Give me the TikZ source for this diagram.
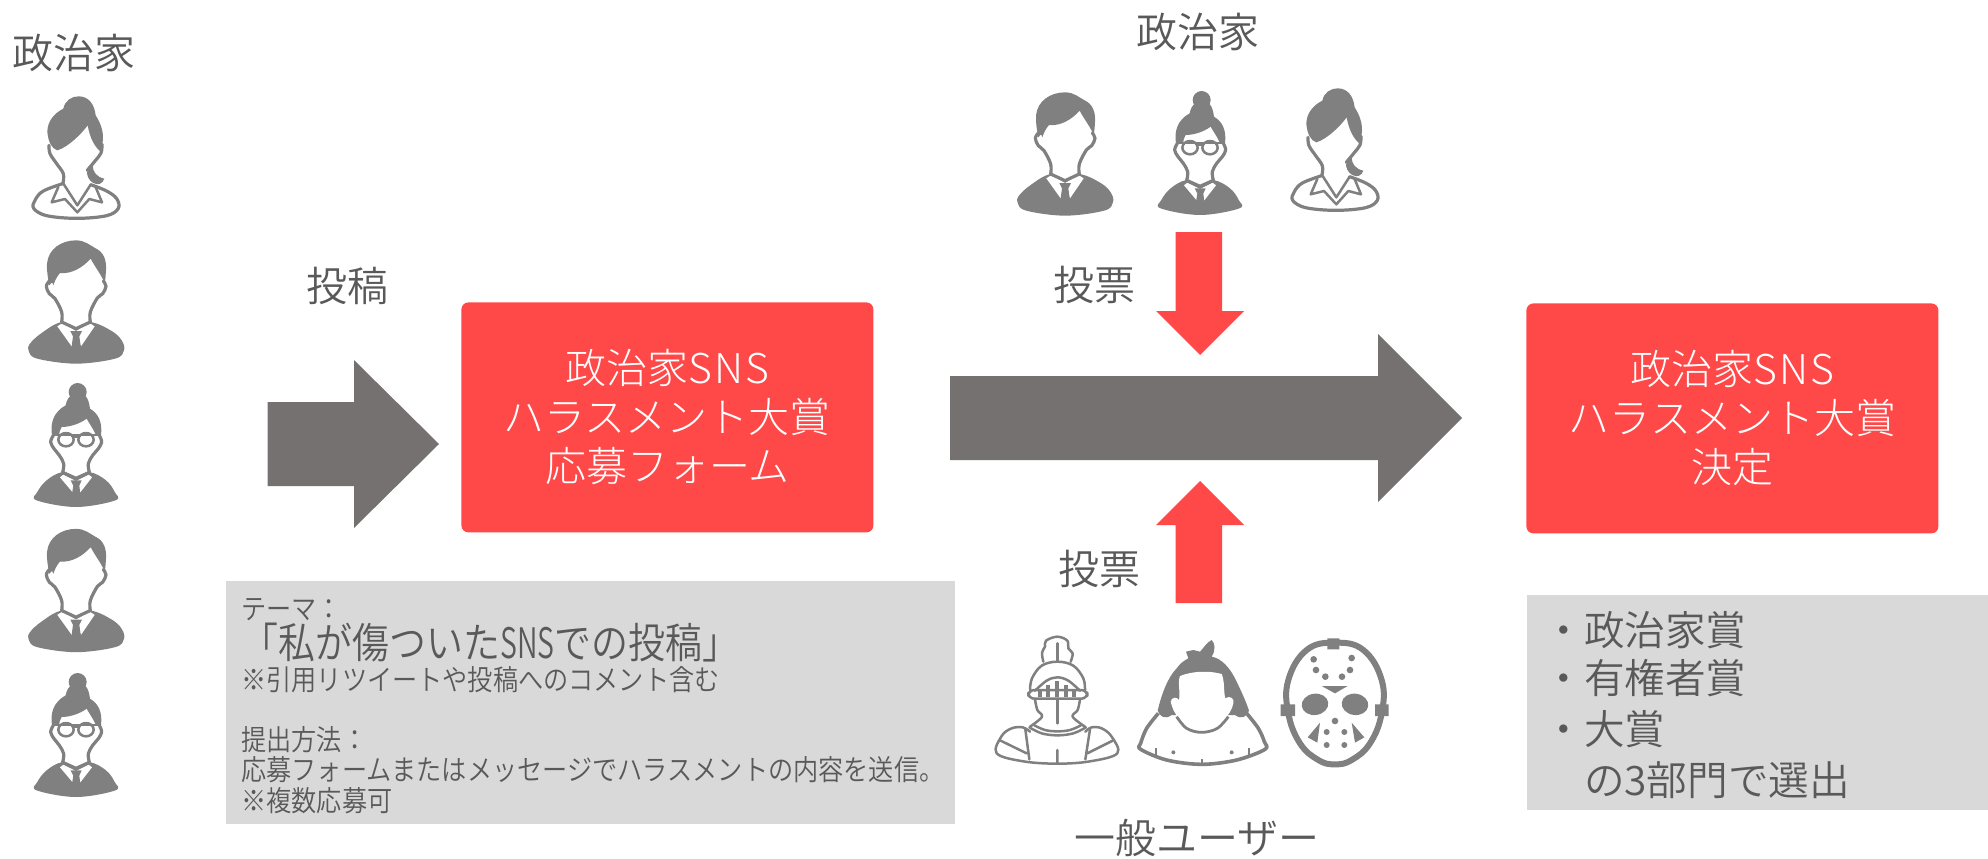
\documentclass[tikz,border=0pt]{standalone}
\usepackage{fontspec}
\setmainfont{Noto Sans CJK JP}[UprightFont=* DemiLight]
\newfontfamily\lightfont{Noto Sans CJK JP}[UprightFont=* Light]
\newfontfamily\narrowfont[FakeStretch=0.88,UprightFont=* DemiLight]{Noto Sans CJK JP}
\newfontfamily\tightfont[FakeStretch=0.68,UprightFont=* DemiLight]{Noto Sans CJK JP}
\definecolor{ink}{HTML}{595959}
\definecolor{icon}{HTML}{808080}
\definecolor{redfill}{HTML}{FF4848}
\definecolor{darkarrow}{HTML}{767171}
\definecolor{panel}{HTML}{D9D9D9}
\tikzset{
  label40/.style={text=ink,inner sep=0pt,font=\fontsize{20.5}{24}\selectfont},
  redbox/.style={fill=redfill,rounded corners=3.5pt,text=white,align=center,inner sep=0pt,
    minimum width=206pt,minimum height=115pt,font=\lightfont\fontsize{20.5}{24.5}\selectfont},
  panelbox/.style={fill=panel,inner sep=0pt},
  small/.style={text=ink,inner sep=0pt,anchor=west,font=\narrowfont\fontsize{14.3}{16}\selectfont},
  big/.style={text=ink,inner sep=0pt,anchor=west,font=\narrowfont\fontsize{21}{24}\selectfont},
  award/.style={text=ink,inner sep=0pt,anchor=west,font=\fontsize{20.3}{24}\selectfont},
  ln/.style={draw=icon,line width=1.6pt,line join=round,line cap=round},
  thin/.style={draw=icon,line width=1.25pt,line join=round,line cap=round},
}
\newcommand{\wideSNS}{{\addfontfeature{LetterSpace=6}SNS}}
% man: local coordinates centred at (228,905)
\newcommand{\manicon}[3]{\begin{scope}[shift={(#1,#2)},scale=#3,shift={(-228,-905)}]
 \fill[icon] plot[smooth cycle,tension=.6] coordinates {(185,965)(125,998)(90,1030)(86,1052)(112,1075)(228,1090)(345,1075)(372,1050)(365,1020)(335,992)(272,965)};
 \fill[white] (172,978)--(188,968)--(228,992)--(268,968)--(284,978)--(243,1038)--(228,1000)--(215,1038)--cycle;
 \fill[icon] (211,992)--(246,992)--(238,1008)--(243,1045)--(228,1060)--(214,1045)--(219,1008)--cycle;
 \fill[white] (150,830)--(310,830)--(300,890)--(272,935)--(272,965)--(228,985)--(185,965)--(185,935)--(160,890)--cycle;
 \draw[ln] plot[smooth,tension=.6] coordinates {(148,842)(139,858)(148,880)(165,895)(185,935)(185,965)};
 \draw[ln] plot[smooth,tension=.6] coordinates {(310,842)(318,858)(308,880)(292,893)(271,935)(271,965)};
 \draw[ln] (185,965)--(228,985)--(271,965);
 \fill[icon] (148,855)..controls(143,830)and(140,810)..(141,790)..controls(145,745)and(185,720)..(228,720)..controls(255,720)and(270,735)..(285,743)..controls(312,755)and(320,780)..(318,810)..controls(317,825)and(316,840)..(314,848)..controls(305,825)and(285,800)..(272,775)..controls(250,800)and(215,822)..(180,818)..controls(170,830)and(165,840)..(160,855)..controls(157,840)and(152,850)..(148,855)--cycle;
\end{scope}}
% woman with bun and glasses: local centre (228,914)
\newcommand{\glassicon}[3]{\begin{scope}[shift={(#1,#2)},scale=#3,shift={(-228,-914)}]
 \fill[icon] plot[smooth cycle,tension=.6] coordinates {(188,995)(140,1020)(112,1055)(110,1080)(228,1100)(346,1080)(344,1055)(318,1020)(268,995)};
 \fill[white] (180,1011)--(190,1003)--(228,1022)--(266,1003)--(276,1011)--(241,1056)--(228,1030)--(218,1056)--cycle;
 \fill[icon] (212,1020)--(245,1020)--(238,1036)--(241,1060)--(228,1075)--(216,1060)--(220,1036)--cycle;
 \fill[white] (158,880)--(300,880)--(295,925)--(265,965)--(265,995)--(228,1012)--(190,995)--(190,965)--(165,925)--cycle;
 \draw[ln] plot[smooth,tension=.6] coordinates {(160,885)(152,905)(162,925)(178,945)(191,970)(188,996)};
 \draw[ln] plot[smooth,tension=.6] coordinates {(298,885)(305,905)(295,925)(278,945)(265,970)(268,996)};
 \draw[ln] (188,996)--(228,1014)--(268,996);
 \fill[icon] (233,755) circle (27);
 \fill[icon] (156,885)..controls(150,850)and(160,815)..(197,795)..controls(200,780)and(205,770)..(215,765)--(255,765)..controls(265,775)and(268,790)..(270,805)..controls(295,820)and(308,845)..(303,885)--(288,885)..controls(280,865)and(268,850)..(260,835)..controls(240,850)and(210,860)..(185,860)..controls(180,868)and(178,875)..(177,885)--cycle;
 \draw[thin] (198,898) ellipse (23 and 20) (258,898) ellipse (23 and 20);
 \draw[icon,line width=1.4pt] (160,884)--(298,884);
 \draw[thin] (221,890)--(235,890);
\end{scope}}
% woman with ponytail and open collar: local centre (228,473)
\newcommand{\pontailicon}[3]{\begin{scope}[shift={(#1,#2)},scale=#3,shift={(-228,-473)}]
 \fill[icon] (262,510)..controls(262,500)and(268,495)..(278,495)..controls(278,515)and(290,530)..(313,535)..controls(308,550)and(295,556)..(280,548)..controls(268,542)and(258,525)..(262,510)--cycle;
 \draw[ln,fill=white] plot[smooth,tension=.6] coordinates {(188,550)(130,572)(106,598)(101,624)(140,646)(230,654)(320,646)(355,624)(350,595)(320,572)(272,553)};
 \draw[ln] plot[smooth,tension=.6] coordinates {(147,435)(150,460)(170,490)(190,520)(189,548)};
 \draw[ln] plot[smooth,tension=.6] coordinates {(306,432)(303,458)(285,482)(262,510)};
 \draw[thin] (189,548)--(232,615)--(272,553);
 \draw[thin] (175,560)--(155,606)--(195,596)--(232,636)--(268,596)--(306,606)--(286,558);
 \fill[icon] (190,325)..controls(195,300)and(215,288)..(236,288)..controls(265,288)and(283,310)..(287,345)..controls(300,365)and(310,390)..(309,415)..controls(308,430)and(305,445)..(300,452)..controls(285,440)and(270,415)..(263,375)..controls(245,400)and(205,440)..(172,450)..controls(155,445)and(145,425)..(142,395)..controls(142,365)and(160,340)..(190,325)--cycle;
\end{scope}}
\begin{document}
\begin{tikzpicture}[x=0.5pt,y=-0.5pt]
\useasboundingbox (0,0) rectangle (1988,858);
% panels
\node[panelbox,anchor=north west,minimum width=364.5pt,minimum height=121.5pt] (panelA) at (226,581) {};
\node[panelbox,anchor=north west,minimum width=230.5pt,minimum height=107.5pt] (panelB) at (1527,595) {};
% red boxes
\node[redbox,anchor=north west] (form) at (461,302) {政治家\wideSNS\\ハラスメント大賞\\応募フォーム};
\node[redbox,anchor=north west] (decide) at (1526,303) {政治家\wideSNS\\ハラスメント大賞\\決定};
% block arrows
\fill[darkarrow] (267.5,402)--(354,402)--(354,360)--(439,444)--(354,528)--(354,486)--(267.5,486)--cycle;
\fill[darkarrow] (950,376)--(1378,376)--(1378,334)--(1462,418)--(1378,502)--(1378,460)--(950,460)--cycle;
\fill[redfill] (1175.5,232)--(1222,232)--(1222,311)--(1244,311)--(1200,355)--(1156,311)--(1175.5,311)--cycle;
\fill[redfill] (1175.5,603)--(1222,603)--(1222,525)--(1244,525)--(1200,481)--(1156,525)--(1175.5,525)--cycle;
% labels
\node[label40] (t1) at (74,53) {政治家};
\node[label40] (t2) at (1198,32) {政治家};
\node[label40] (t3) at (347.5,286) {投稿};
\node[label40] (t4) at (1094,285) {投票};
\node[label40] (t5) at (1099,569) {投票};
\node[label40] (t6) at (1197,838) {一般ユーザー};
% panel A text
\node[small] (a1) at (241,610) {テーマ：};
\node[big] (a2) at (241,643) {「私が傷ついた{\tightfont SNS}での投稿」};
\node[small] (a3) at (241,680) {※引用リツイートや投稿へのコメント含む};
\node[small] (a4) at (241,740) {提出方法：};
\node[small] (a5) at (241,770) {応募フォームまたはメッセージでハラスメントの内容を送信。};
\node[small] (a6) at (241,801) {※複数応募可};
% panel B text
\node[award] (b1) at (1543,630) {・政治家賞};
\node[award] (b2) at (1543,678) {・有権者賞};
\node[award] (b3) at (1543,729) {・大賞};
\node[award] (b4) at (1543,780) {　の3部門で選出};
% people
\pontailicon{76}{158}{1/3}
\manicon{76}{302}{1/3}
\glassicon{76}{445}{1/3}
\manicon{76}{590.5}{1/3}
\glassicon{76}{735}{1/3}
\manicon{1065}{154}{1/3}
\glassicon{1200}{153}{1/3}
\pontailicon{1335}{150}{1/3}
% general users, drawn in 3x local coordinates
\begin{scope}[shift={(980,620)},scale=1/3]
 % knight
 \draw[thin] plot[smooth,tension=.6] coordinates {(190,125)(186,98)(195,80)(198,62)(232,50)(262,62)(265,85)(278,100)(272,125)};
 \draw[thin] (232,70)--(232,122);
 \draw[thin] plot[smooth,tension=.6] coordinates {(150,210)(156,175)(185,137)(232,125)(280,137)(310,175)(315,210)};
 \draw[thin,rounded corners=3pt] (145,210) rectangle (322,236);
 \draw[thin] plot[smooth,tension=.6] coordinates {(165,212)(200,182)(232,172)(265,182)(300,212)};
 \foreach \xx/\yy in {180/212,205/194,232/184,258/194,283/212}{\draw[icon,line width=2pt] (\xx,\yy)--(\xx,230);}
 \draw[thin] plot[smooth,tension=.6] coordinates {(165,238)(172,270)(186,290)(150,320)};
 \draw[thin] plot[smooth,tension=.6] coordinates {(300,238)(293,270)(278,290)(315,320)};
 \draw[thin] (232,236)--(232,310);
 \draw[thin] plot[smooth,tension=.6] coordinates {(148,322)(185,340)(232,346)(280,340)(318,322)};
 \draw[thin] plot[smooth,tension=.6] coordinates {(163,316)(195,330)(232,334)(270,330)(303,316)};
 \draw[thin] plot[smooth,tension=.6] coordinates {(150,335)(128,322)(95,325)(65,348)(50,400)(130,424)(232,431)(330,424)(412,400)(395,350)(365,325)(335,322)(316,335)};
 \draw[thin] (62,362)--(140,400) (136,328)--(148,418) (398,362)--(322,400) (330,328)--(316,418) (232,390)--(232,430);
 % sumo wrestler
 \draw[icon,line width=1.8pt,line join=round] plot[smooth,tension=.55] coordinates {(535,280)(500,325)(482,370)(482,388)(560,420)(665,433)(770,420)(855,388)(853,365)(835,325)(800,280)};
 \fill[icon] (533,272)..controls(545,220)and(565,170)..(590,145)..controls(600,130)and(612,122)..(625,115)--(618,95)--(640,90)--(660,95)..controls(670,85)and(682,65)..(695,60)..controls(705,70)and(708,90)..(695,110)..controls(725,115)and(750,145)..(765,175)..controls(785,215)and(800,250)..(807,272)..controls(800,290)and(785,300)..(765,285)--(575,285)..controls(555,300)and(540,290)..(533,272)--cycle;
 \fill[white] (600,168)..controls(640,152)and(690,152)..(725,162)..controls(735,185)and(730,215)..(736,235)..controls(748,225)and(765,235)..(760,250)..controls(756,270)and(745,285)..(735,295)..controls(715,325)and(690,335)..(665,335)..controls(640,335)and(615,325)..(598,295)..controls(585,285)and(575,260)..(572,245)..controls(575,230)and(590,230)..(597,240)..controls(602,215)and(592,190)..(600,168)--cycle;
 \draw[icon,line width=1.4pt] plot[smooth,tension=.6] coordinates {(590,290)(620,325)(665,337)(712,325)(745,290)};
 \fill[icon] (580,397) circle (6) (755,397) circle (6);
 \draw[icon,line width=.9pt] (528,385)--(528,405) (665,418)--(665,430) (808,385)--(808,405);
 % mask
 \draw[icon,line width=3pt] plot[smooth cycle,tension=.7] coordinates {(1065,68)(1150,90)(1205,180)(1205,280)(1170,370)(1115,420)(1065,433)(1015,420)(960,370)(925,280)(925,180)(980,90)};
 \fill[icon] (1042,55) rectangle (1078,88) (902,253) rectangle (945,288) (1185,253) rectangle (1226,288);
 \fill[icon] (1001,118) circle (10) (1115,114) circle (10) (1008,150) circle (10) (1110,150) circle (10) (1036,170) circle (10) (1086,170) circle (10) (1065,303) circle (10) (1040,336) circle (9) (1093,336) circle (9) (1040,375) circle (9) (1093,375) circle (9);
 \fill[icon] (1025,198)--(1103,198)--(1065,220)--cycle;
 \fill[icon,rotate around={8:(1005,253)}] (1005,253) ellipse (40 and 32);
 \fill[icon,rotate around={-8:(1125,253)}] (1125,253) ellipse (40 and 32);
 \fill[icon] (1020,308)--(983,352)--(1012,368)--cycle (1115,308)--(1153,352)--(1125,368)--cycle;
\end{scope}
\end{tikzpicture}
\end{document}
